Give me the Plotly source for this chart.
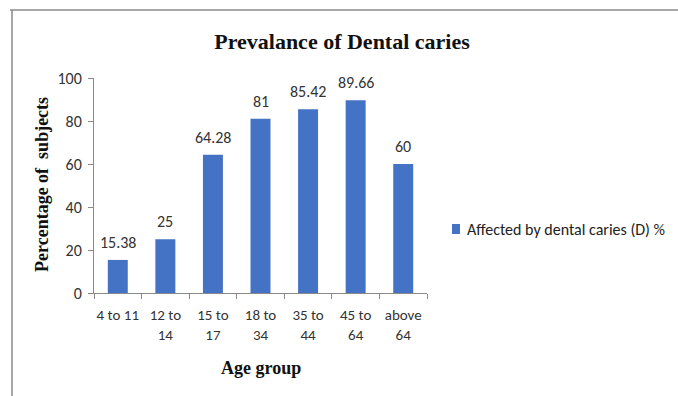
import plotly.graph_objects as go

categories = ["4 to 11", "12 to<br>14", "15 to<br>17", "18 to<br>34", "35 to<br>44", "45 to<br>64", "above<br>64"]
values = [15.38, 25, 64.28, 81, 85.42, 89.66, 60]
labels = ["15.38", "25", "64.28", "81", "85.42", "89.66", "60"]
series_name = "Affected by dental caries (D) %"
y_ticks = [0, 20, 40, 60, 80, 100]

W, H = 678, 396
L, R, T, B = 94, 678 - 427, 78, 396 - 293
pw, ph = W - L - R, H - T - B

def px(x):
    return (x - L) / pw

def py(y):
    return (H - B - y) / ph

sans = "Carlito, 'Liberation Sans Narrow', Lato, 'Open Sans', Arial, sans-serif"
serif = "'Liberation Serif', 'Times New Roman', serif"
bar_color = "#4472C4"

fig = go.Figure()
fig.add_trace(go.Bar(
    x=categories, y=values, name=series_name,
    marker=dict(color=bar_color, line=dict(width=0)),
    width=0.42, showlegend=False,
))

annotations = [
    dict(x=c, y=v, text=t, xref="x", yref="y", showarrow=False,
         xanchor="center", yanchor="bottom", yshift=6,
         font=dict(family=sans, size=16, color="#333333"))
    for c, v, t in zip(categories, values, labels)
]
annotations += [
    dict(text="<b>Percentage of  subjects</b>", xref="paper", yref="paper",
         x=px(42), y=py(185), textangle=-90, showarrow=False,
         xanchor="center", yanchor="middle",
         font=dict(family=serif, size=18, color="#111111")),
    dict(text="<b>Age group</b>", xref="paper", yref="paper",
         x=px(261), y=py(368), showarrow=False,
         xanchor="center", yanchor="middle",
         font=dict(family=serif, size=18, color="#111111")),
    dict(text=series_name, xref="paper", yref="paper",
         x=px(465), y=py(229), showarrow=False,
         xanchor="left", yanchor="middle",
         font=dict(family=sans, size=16, color="#222222")),
]

fig.update_layout(
    width=W, height=H,
    margin=dict(l=L, r=R, t=T, b=B, autoexpand=False),
    paper_bgcolor="white", plot_bgcolor="white",
    title=dict(text="<b>Prevalance of Dental caries</b>", x=342 / W, y=1 - 41 / H,
               xanchor="center", yanchor="middle",
               font=dict(family=serif, size=22, color="#111111")),
    showlegend=False,
    xaxis=dict(type="category", range=[-0.5, 6.5], showline=True, linecolor="#898989",
               linewidth=1, ticks="outside", tickson="boundaries", ticklen=5,
               tickcolor="#898989", showgrid=False, ticklabelstandoff=8, tickangle=0,
               tickfont=dict(family=sans, size=15, color="#333333")),
    yaxis=dict(range=[0, 100], tickvals=y_ticks, showline=True, linecolor="#898989",
               linewidth=1, ticks="outside", ticklen=5, tickcolor="#898989",
               showgrid=False, zeroline=False, ticklabelstandoff=3,
               tickfont=dict(family=sans, size=16, color="#333333")),
    annotations=annotations,
    shapes=[
        dict(type="line", xref="paper", yref="paper", x0=px(10), x1=px(680),
             y0=py(10), y1=py(10), line=dict(color="#8a8a8a", width=1.5)),
        dict(type="line", xref="paper", yref="paper", x0=px(12), x1=px(12),
             y0=py(10), y1=py(400), line=dict(color="#8a8a8a", width=1.5)),
        dict(type="rect", xref="paper", yref="paper", x0=px(452), x1=px(460),
             y0=py(234), y1=py(224), fillcolor=bar_color, line=dict(width=0)),
    ],
)

fig.write_html("out.html")
